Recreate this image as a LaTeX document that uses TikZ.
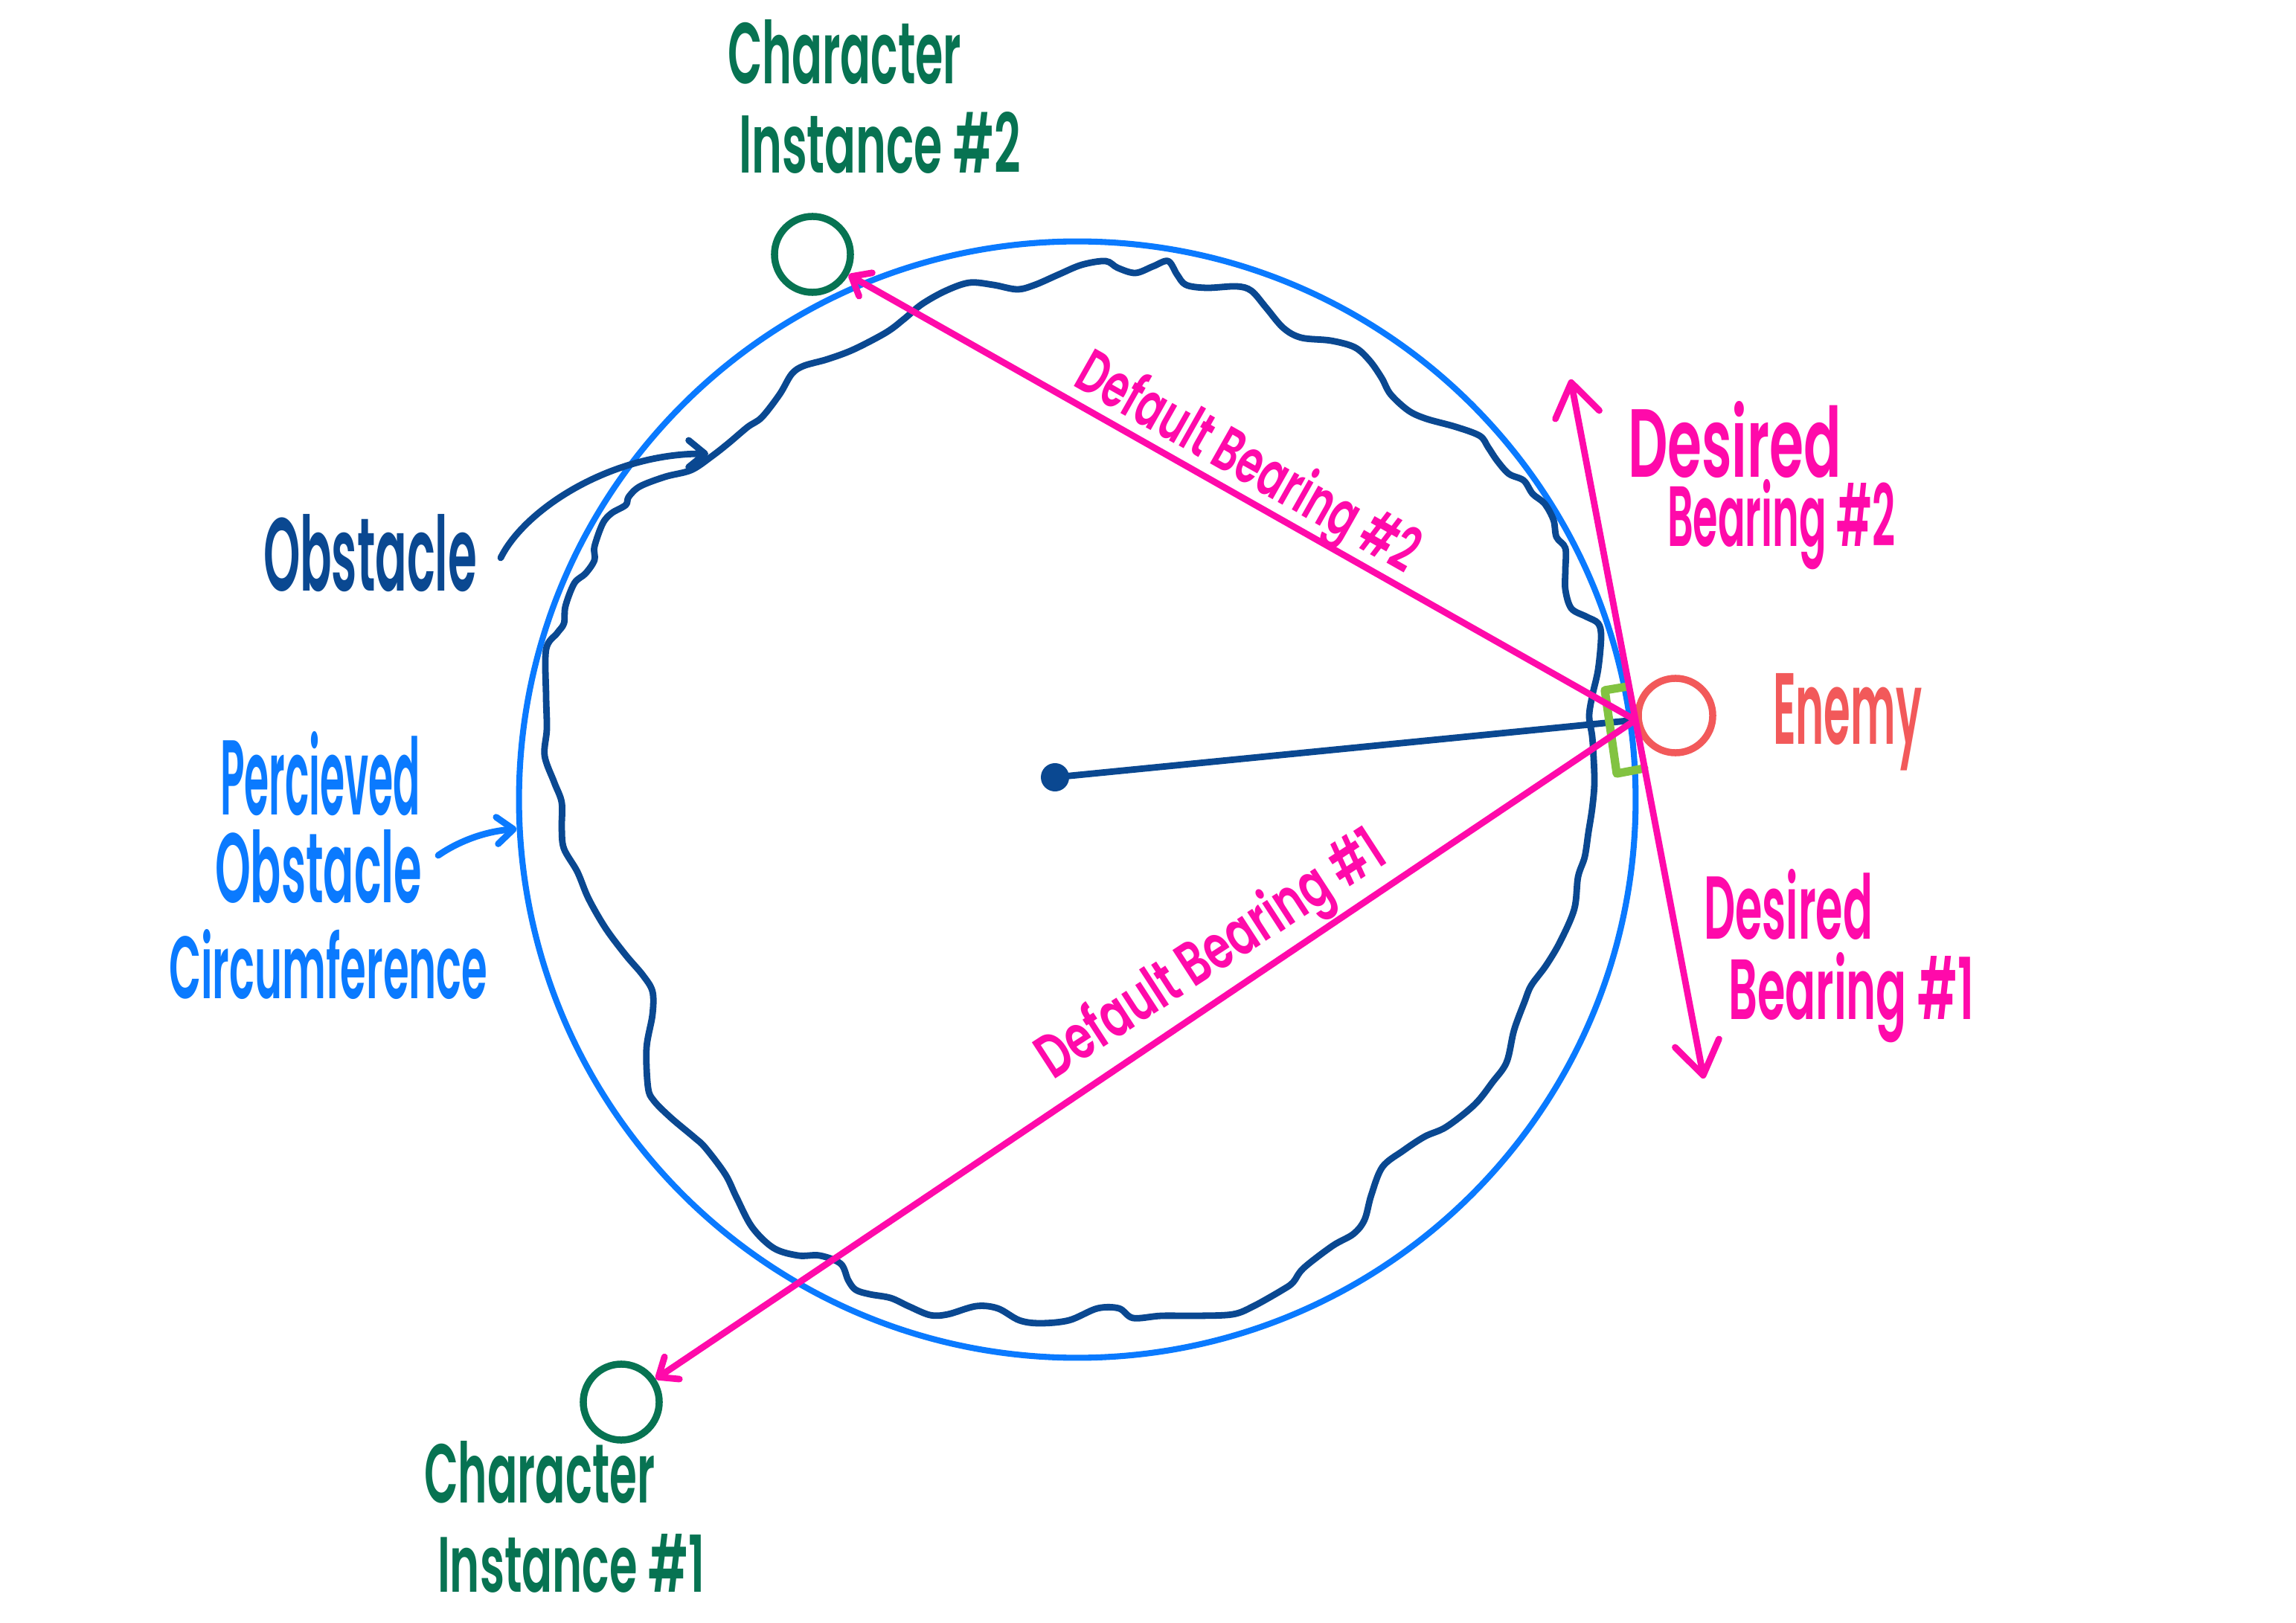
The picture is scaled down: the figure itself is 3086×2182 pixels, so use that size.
\documentclass[tikz,border=0pt]{standalone}
\usepackage{fontspec}
\setmainfont{Poppins}
\IfFontExistsTF{Poppins SemiBold}{\newfontfamily\handfont{Poppins SemiBold}}{%
  \IfFontExistsTF{Poppins Medium}{\newfontfamily\handfont{Poppins Medium}}{\newfontfamily\handfont{Poppins}}}
\usepackage{graphicx}
\usetikzlibrary{arrows.meta}
\definecolor{pinkc}{RGB}{255,10,170}
\definecolor{bluec}{RGB}{10,122,255}
\definecolor{navyc}{RGB}{10,72,145}
\definecolor{greenc}{RGB}{7,115,82}
\definecolor{redc}{RGB}{242,89,90}
\definecolor{limec}{RGB}{130,195,65}
\newcommand{\hwtxt}[3]{\resizebox{#1cm}{#2cm}{#3}}
\begin{document}
\begin{tikzpicture}[x=0.01cm,y=-0.01cm,
  pen/.style={line width=2.5pt, line cap=round, line join=round},
  hw/.style={inner sep=0pt, outer sep=0pt, anchor=base west, font=\handfont},
  charc/.style={circle, draw=greenc, line width=2.7pt, minimum size=1.02cm, inner sep=0pt},
  barbS/.style={-{Straight Barb[round,length=0.22cm,width=0.36cm]}},
  barbD/.style={{Straight Barb[round,length=0.44cm,width=0.6cm]}-{Straight Barb[round,length=0.44cm,width=0.6cm]}}
]
\fill[white] (0,0) rectangle (3086,2182);
\useasboundingbox (0,0) rectangle (3086,2182);

% perceived obstacle circumference
\node[circle, draw=bluec, line width=2.3pt, minimum size=15cm, inner sep=0pt] (bc) at (1448,1075) {};

% obstacle
\draw[navyc, pen] plot[smooth cycle, tension=0.55] coordinates {
(734,873) (749,851) (758,838) (760,815) (772,784) (787,771) (799,753) (799,735) (810,704) (822,690) (841,679) (845,668) (860,654) (894,641) (929,632) (956,614) (979,596) (1005,574) (1024,561) (1048,530) (1064,503) (1080,492) (1112,483) (1147,470) (1191,447) (1215,429) (1239,409) (1271,391) (1303,380) (1335,383) (1367,389) (1391,383) (1423,369) (1454,356) (1486,351) (1502,360) (1526,367) (1550,358) (1570,351) (1582,369) (1594,383) (1622,387) (1662,385) (1682,391) (1702,414) (1725,441) (1749,454) (1789,458) (1821,467) (1841,485) (1857,508) (1869,530) (1893,552) (1917,563) (1957,574) (1989,586) (2000,601) (2012,619) (2028,637) (2048,646) (2060,664) (2076,677) (2088,699) (2092,722) (2104,737) (2104,766) (2104,793) (2112,818) (2132,829) (2148,838) (2152,856) (2148,900) (2140,936) (2136,963) (2140,990) (2142,1020) (2143,1054) (2140,1087) (2135,1119) (2130,1152) (2121,1179) (2116,1222) (2097,1266) (2078,1298) (2058,1325) (2049,1347) (2035,1385) (2025,1428) (2006,1455) (1982,1485) (1944,1515) (1915,1528) (1886,1547) (1858,1569) (1843,1607) (1834,1640) (1819,1659) (1791,1675) (1752,1705) (1738,1724) (1724,1734) (1685,1756) (1657,1767) (1609,1769) (1561,1769) (1523,1772) (1504,1759) (1475,1759) (1437,1775) (1398,1779) (1370,1775) (1341,1759) (1312,1756) (1274,1767) (1250,1768) (1221,1756) (1197,1745) (1169,1740) (1150,1734) (1140,1721) (1130,1699) (1102,1688) (1073,1688) (1040,1678) (1011,1650) (990,1610) (975,1579) (948,1543) (933,1529) (902,1503) (879,1480) (871,1462) (869,1409) (877,1364) (877,1333) (864,1311) (841,1284) (814,1248) (791,1208) (776,1172) (758,1141) (755,1114) (755,1079) (745,1052) (732,1016) (735,980) (734,936)};

% centre and radius line
\coordinate (P) at (2198,968);
\node[circle, fill=navyc, minimum size=0.38cm, inner sep=0pt] (ctr) at (1418,1045) {};
\draw[navyc, pen] (ctr.center) -- (P);

% green bracket
\draw[limec, line width=3.2pt, line cap=round, line join=round] (2187,923) -- (2157,928) -- (2173,1040) -- (2210,1033);

% circles
\node[charc] (c2) at (1092,342) {};
\node[charc] (c1) at (835,1885) {};
\node[circle, draw=redc, line width=2.7pt, minimum size=1.0cm, inner sep=0pt] (en) at (2252,962) {};

% pink bearings
\coordinate (dtop) at (2111,510);
\coordinate (dbot) at (2290,1450);
\draw[pinkc, pen, barbD] (dtop) -- (dbot);
\draw[pinkc, pen, barbS] (P) -- (c2);
\draw[pinkc, pen, barbS] (P) -- (c1);

% label arrows
\coordinate (obsA) at (673,750);
\coordinate (obsB) at (952,610);
\draw[navyc, pen, barbS] (obsA) .. controls (705,685) and (820,610) .. (obsB);
\coordinate (perA) at (589,1150);
\draw[bluec, pen, barbS] (perA) .. controls (615,1132) and (650,1118) .. (bc.183);

% labels
\node[hw, text=greenc] (t1) at (978,113) {\hwtxt{3.14}{0.86}{Character}};
\node[hw, text=greenc] (t2) at (993,233) {\hwtxt{3.79}{0.82}{Instance \#2}};
\node[hw, text=navyc] (t3) at (354,795) {\hwtxt{2.87}{1.03}{Obstacle}};
\node[hw, text=bluec] (t4) at (296,1095) {\hwtxt{2.69}{1.12}{Percieved}};
\node[hw, text=bluec] (t5) at (289,1213) {\hwtxt{2.78}{0.98}{Obstacle}};
\node[hw, text=bluec] (t6) at (227,1342) {\hwtxt{4.28}{0.93}{Circumference}};
\node[hw, text=redc] (t7) at (2383,1000) {\hwtxt{2.00}{0.95}{Enemy}};
\node[hw, text=pinkc] (t8) at (2188,642) {\hwtxt{2.87}{1.02}{Desired}};
\node[hw, text=pinkc] (t9) at (2241,735) {\hwtxt{3.06}{0.9}{Bearing \#2}};
\node[hw, text=pinkc] (t10) at (2290,1262) {\hwtxt{2.27}{0.94}{Desired}};
\node[hw, text=pinkc] (t11) at (2323,1370) {\hwtxt{3.30}{0.9}{Bearing \#1}};
\node[hw, text=greenc] (t12) at (570,2020) {\hwtxt{3.10}{0.83}{Character}};
\node[hw, text=greenc] (t13) at (588,2140) {\hwtxt{3.59}{0.78}{Instance \#1}};
\node[hw, text=pinkc, rotate=-29.5] (t14) at (1440,518) {\hwtxt{5.15}{0.65}{Default Bearing \#2}};
\node[hw, text=pinkc, rotate=33] (t15) at (1415,1452) {\hwtxt{5.40}{0.65}{Default Bearing \#1}};
\end{tikzpicture}
\end{document}
